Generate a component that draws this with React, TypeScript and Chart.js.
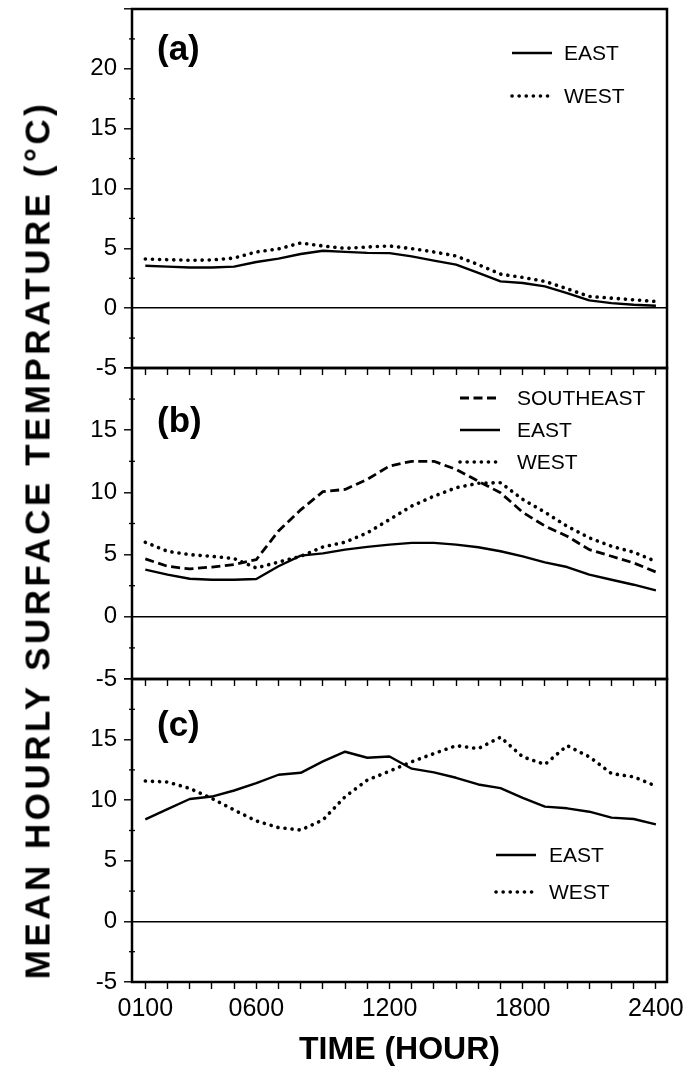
import React, { useEffect, useRef } from 'react';
import { Chart, registerables } from 'chart.js';

Chart.register(...registerables);

const FONT = '"Liberation Sans", Arial, Helvetica, sans-serif';

// Hours 0100 ... 2400
const hours = [1, 2, 3, 4, 5, 6, 7, 8, 9, 10, 11, 12, 13, 14, 15, 16, 17, 18, 19, 20, 21, 22, 23, 24];
const xTickHours = [1, 6, 12, 18, 24];
const xTickLabels = ['0100', '0600', '1200', '1800', '2400'];

// Panel (a)
const aEast = [3.55, 3.47, 3.4, 3.4, 3.47, 3.86, 4.14, 4.53, 4.8, 4.7, 4.62, 4.6, 4.33, 3.97, 3.64, 2.94, 2.24, 2.1, 1.82, 1.26, 0.65, 0.42, 0.28, 0.2];
const aWest = [4.11, 4.05, 4.0, 4.03, 4.19, 4.7, 4.95, 5.45, 5.2, 5.0, 5.11, 5.2, 4.98, 4.7, 4.36, 3.64, 2.85, 2.57, 2.24, 1.62, 0.98, 0.84, 0.7, 0.56];
// Panel (b)
const bSoutheast = [4.65, 4.06, 3.85, 4.0, 4.2, 4.6, 6.9, 8.6, 10.06, 10.24, 11.05, 12.12, 12.5, 12.5, 11.85, 10.9, 9.97, 8.4, 7.3, 6.48, 5.4, 4.87, 4.33, 3.6];
const bEast = [3.79, 3.39, 3.06, 2.98, 2.98, 3.04, 4.06, 4.92, 5.1, 5.4, 5.62, 5.8, 5.94, 5.94, 5.8, 5.59, 5.27, 4.86, 4.38, 4.0, 3.39, 2.98, 2.58, 2.12];
const bWest = [5.99, 5.27, 5.0, 4.86, 4.68, 3.92, 4.4, 4.86, 5.62, 6.0, 6.75, 7.82, 8.9, 9.7, 10.38, 10.73, 10.78, 9.44, 8.41, 7.28, 6.35, 5.67, 5.19, 4.46];
// Panel (c)
const cEast = [8.42, 9.27, 10.1, 10.3, 10.8, 11.4, 12.1, 12.26, 13.2, 14.0, 13.5, 13.6, 12.6, 12.3, 11.85, 11.3, 11.0, 10.2, 9.47, 9.33, 9.05, 8.56, 8.45, 8.0];
const cWest = [11.58, 11.5, 10.97, 10.15, 9.19, 8.29, 7.74, 7.54, 8.37, 10.29, 11.66, 12.4, 13.17, 13.85, 14.5, 14.26, 15.2, 13.58, 12.95, 14.5, 13.58, 12.2, 11.93, 11.17];

// Y tick labels per panel
const aYLabels = [-5, 0, 5, 10, 15, 20];
const bYLabels = [-5, 0, 5, 10, 15];
const cYLabels = [-5, 0, 5, 10, 15];

type LineStyle = 'solid' | 'dotted' | 'dashed';
interface SeriesDef { label: string; values: number[]; style: LineStyle; }
interface PanelDef {
  tag: string;
  series: SeriesDef[];
  yMin: number; yMax: number; yLabels: number[];
  canvasTop: number; canvasHeight: number; padTop: number; xAxisHeight: number; showX: boolean;
  legend: { x0: number; x1: number; tx: number; ys: number[] };
  tagPos: [number, number];
}

function styleFor(s: LineStyle) {
  if (s === 'solid') return { borderWidth: 2.4, borderDash: [] as number[], borderCapStyle: 'butt' };
  if (s === 'dotted') return { borderWidth: 3.6, borderDash: [0.1, 7], borderCapStyle: 'round' };
  return { borderWidth: 2.8, borderDash: [9, 4.5], borderCapStyle: 'butt' };
}

const panels: PanelDef[] = [
  {
    tag: '(a)',
    series: [
      { label: 'EAST', values: aEast, style: 'solid' },
      { label: 'WEST', values: aWest, style: 'dotted' },
    ],
    yMin: -5, yMax: 25, yLabels: aYLabels,
    canvasTop: 0, canvasHeight: 380, padTop: 9, xAxisHeight: 12, showX: false,
    legend: { x0: 512, x1: 552, tx: 564, ys: [53, 96] },
    tagPos: [157, 50],
  },
  {
    tag: '(b)',
    series: [
      { label: 'SOUTHEAST', values: bSoutheast, style: 'dashed' },
      { label: 'EAST', values: bEast, style: 'solid' },
      { label: 'WEST', values: bWest, style: 'dotted' },
    ],
    yMin: -5, yMax: 20, yLabels: bYLabels,
    canvasTop: 356, canvasHeight: 335, padTop: 12, xAxisHeight: 12, showX: false,
    legend: { x0: 460, x1: 500, tx: 517, ys: [398, 430, 462] },
    tagPos: [157, 422],
  },
  {
    tag: '(c)',
    series: [
      { label: 'EAST', values: cEast, style: 'solid' },
      { label: 'WEST', values: cWest, style: 'dotted' },
    ],
    yMin: -5, yMax: 20, yLabels: cYLabels,
    canvasTop: 668, canvasHeight: 406, padTop: 11, xAxisHeight: 92, showX: true,
    legend: { x0: 496, x1: 536, tx: 549, ys: [855, 892] },
    tagPos: [157, 726],
  },
];

const decorPlugin = {
  id: 'panelDecor',
  afterDatasetsDraw(chart: any, _args: any, opts: any) {
    const { ctx, chartArea: a } = chart;
    const top = opts.canvasTop;
    ctx.save();
    // frame
    ctx.strokeStyle = '#000';
    ctx.lineWidth = 2.5;
    ctx.setLineDash([]);
    ctx.strokeRect(a.left, a.top, a.right - a.left, a.bottom - a.top);
    // minor y ticks
    const ys = chart.scales.y;
    ctx.lineWidth = 1.3;
    for (let v = ys.min + 2.5; v < ys.max; v += 5) {
      const py = ys.getPixelForValue(v);
      ctx.beginPath();
      ctx.moveTo(a.left - 3, py);
      ctx.lineTo(a.left + 3, py);
      ctx.stroke();
    }
    // panel tag
    ctx.fillStyle = '#000';
    ctx.font = `bold 35px ${FONT}`;
    ctx.textBaseline = 'middle';
    ctx.textAlign = 'left';
    ctx.fillText(opts.tag, opts.tagPos[0], opts.tagPos[1] - top);
    // legend
    const lg = opts.legend;
    ctx.font = `21px ${FONT}`;
    chart.data.datasets.forEach((ds: any, i: number) => {
      const y = lg.ys[i] - top;
      ctx.save();
      ctx.strokeStyle = ds.borderColor;
      ctx.lineWidth = ds.borderWidth;
      ctx.lineCap = ds.borderCapStyle;
      ctx.setLineDash(ds.borderDash || []);
      ctx.beginPath();
      ctx.moveTo(lg.x0, y);
      ctx.lineTo(lg.x1, y);
      ctx.stroke();
      ctx.restore();
      ctx.fillText(ds.label, lg.tx, y + 1);
    });
    ctx.restore();
  },
};

function Panel({ p }: { p: PanelDef }) {
  const ref = useRef<HTMLCanvasElement | null>(null);
  useEffect(() => {
    if (!ref.current) return;
    const majors: number[] = [];
    for (let v = p.yMin; v <= p.yMax; v += 5) majors.push(v);
    const chart = new Chart(ref.current, {
      type: 'line',
      data: {
        datasets: p.series.map((s) => ({
          label: s.label,
          data: hours.map((h, i) => ({ x: h, y: s.values[i] })),
          borderColor: '#000',
          backgroundColor: '#000',
          pointRadius: 0,
          tension: 0,
          fill: false,
          borderJoinStyle: 'round',
          ...styleFor(s.style),
        })) as any,
      },
      options: {
        animation: false,
        responsive: false,
        maintainAspectRatio: false,
        layout: { padding: { top: p.padTop, right: 28, left: 0, bottom: 0 } },
        plugins: {
          legend: { display: false },
          tooltip: { enabled: false },
          panelDecor: { canvasTop: p.canvasTop, tag: p.tag, tagPos: p.tagPos, legend: p.legend },
        } as any,
        scales: {
          x: {
            type: 'linear',
            min: 0.4,
            max: 24.5,
            position: 'bottom',
            afterBuildTicks: (s: any) => { s.ticks = hours.map((h) => ({ value: h })); },
            afterFit: (s: any) => { s.height = p.xAxisHeight; s.paddingLeft = 0; s.paddingRight = 0; },
            grid: {
              display: true,
              drawOnChartArea: false,
              drawTicks: true,
              tickLength: 7,
              tickColor: '#000',
              tickWidth: 1.4,
              color: 'rgba(0,0,0,0)',
            },
            border: { display: false },
            ticks: {
              display: p.showX,
              autoSkip: false,
              maxRotation: 0,
              padding: 5,
              color: '#000',
              font: { family: FONT, size: 25 },
              callback: (v: any) => {
                const i = xTickHours.indexOf(Number(v));
                return i >= 0 ? xTickLabels[i] : '';
              },
            },
            title: {
              display: p.showX,
              text: 'TIME (HOUR)',
              color: '#000',
              font: { family: FONT, size: 32, weight: 'bold' },
              padding: { top: 0, bottom: 5 },
            },
          },
          y: {
            type: 'linear',
            min: p.yMin,
            max: p.yMax,
            afterBuildTicks: (s: any) => { s.ticks = majors.map((v) => ({ value: v })); },
            afterFit: (s: any) => { s.width = 132; s.paddingTop = 0; s.paddingBottom = 0; },
            grid: {
              drawOnChartArea: true,
              color: (c: any) => (c.tick && c.tick.value === 0 ? '#000' : 'rgba(0,0,0,0)'),
              lineWidth: 1.6,
              tickLength: 8,
              tickColor: '#000',
              tickWidth: 1.4,
            },
            border: { display: false },
            ticks: {
              padding: 7,
              color: '#000',
              font: { family: FONT, size: 24 },
              callback: (v: any) => (p.yLabels.includes(Number(v)) ? String(v) : ''),
            },
          },
        },
      } as any,
      plugins: [decorPlugin as any],
    });
    return () => chart.destroy();
  }, [p]);
  return (
    <canvas
      ref={ref}
      width={695}
      height={p.canvasHeight}
      style={{ position: 'absolute', left: 0, top: p.canvasTop, width: 695, height: p.canvasHeight }}
    />
  );
}

export default function App() {
  return (
    <div style={{ position: 'absolute', left: 0, top: 0, width: 695, height: 1074, background: '#fff', overflow: 'hidden' }}>
      {panels.map((p) => (
        <Panel key={p.tag} p={p} />
      ))}
      <div
        style={{
          position: 'absolute',
          left: 37,
          top: 540,
          transform: 'translate(-50%, -50%) rotate(-90deg)',
          whiteSpace: 'nowrap',
          font: `bold 35px ${FONT}`,
          letterSpacing: '3.5px',
          color: '#000',
          lineHeight: '1',
        }}
      >
        MEAN HOURLY SURFACE TEMPRATURE (°C)
      </div>
    </div>
  );
}
